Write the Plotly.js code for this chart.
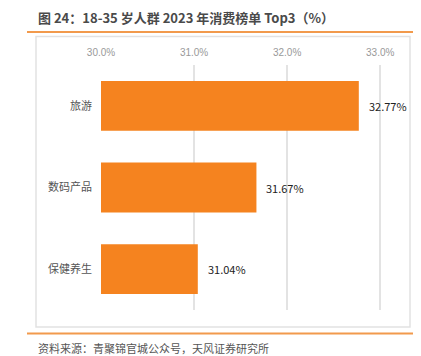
<!DOCTYPE html>
<html><head><meta charset="utf-8">
<script src="https://cdn.plot.ly/plotly-3.0.1.min.js"></script>
<style>html,body{margin:0;padding:0;background:#fff;}#c{width:421px;height:356px;}</style>
</head><body><div id="c"></div>
<script>
var categories = ['旅游', '数码产品', '保健养生'];
var values = [32.77, 31.67, 31.04];
var labels = ['32.77%', '31.67%', '31.04%'];
var tickVals = [30, 31, 32, 33];
var tickText = ['30.0%', '31.0%', '32.0%', '33.0%'];

var W = 421, H = 356, L = 101, R = 11, T = 65, B = 46;
var pw = W - L - R, ph = H - T - B;
function px(x){ return (x - L) / pw; }
function py(y){ return 1 - (y - T) / ph; }

var font = 'Noto Sans CJK SC, Noto Sans, sans-serif';
var trace = {
  type: 'bar', orientation: 'h',
  y: categories, x: values,
  base: 0,
  marker: {color: '#F5831F'},
  hoverinfo: 'none'
};
var annotations = values.map(function(v, i){
  return {x: v, y: categories[i], xref: 'x', yref: 'y', text: labels[i],
    showarrow: false, xanchor: 'left', xshift: 8,
    font: {family: font, size: 11, color: '#222'}};
});
annotations.push({xref: 'paper', yref: 'paper', x: px(36), y: py(18), xanchor: 'left', yanchor: 'middle',
  text: '<b>图 24：18-35 岁人群 2023 年消费榜单 Top3（%）</b>', showarrow: false,
  font: {family: font, size: 13, color: '#4a4a4a'}});
annotations.push({xref: 'paper', yref: 'paper', x: px(36), y: py(348), xanchor: 'left', yanchor: 'middle',
  text: '资料来源：青聚锦官城公众号，天风证券研究所', showarrow: false,
  font: {family: font, size: 11, color: '#555'}});

var shapes = [
  {type: 'line', xref: 'paper', yref: 'paper', x0: px(27), x1: px(413), y0: py(32), y1: py(32), line: {color: '#F29A4C', width: 2}},
  {type: 'line', xref: 'paper', yref: 'paper', x0: px(27), x1: px(413), y0: py(333.5), y1: py(333.5), line: {color: '#F29A4C', width: 2}},
  {type: 'rect', xref: 'paper', yref: 'paper', x0: px(36), x1: px(410), y0: py(36.5), y1: py(327), line: {color: '#E2E2E2', width: 1.5}, layer: 'below'}
];

var layout = {
  width: W, height: H,
  margin: {l: L, r: R, t: T, b: B, pad: 0},
  paper_bgcolor: '#fff', plot_bgcolor: '#fff',
  showlegend: false,
  bargap: 0.39,
  xaxis: {side: 'top', range: [30, 33.32], tickvals: tickVals, ticktext: tickText,
    showgrid: true, gridcolor: '#E3E3E3', gridwidth: 1.5, zeroline: false, showline: false,
    ticks: '', ticklabelstandoff: 6,
    tickfont: {family: 'Liberation Sans, Arial, sans-serif', size: 10, color: '#999'}},
  yaxis: {autorange: 'reversed', showgrid: false, zeroline: false, showline: false, ticks: '',
    ticklabelstandoff: 8,
    tickfont: {family: font, size: 11, color: '#555'}},
  annotations: annotations,
  shapes: shapes
};
Plotly.newPlot('c', [trace], layout, {displayModeBar: false, staticPlot: true});
</script></body></html>
